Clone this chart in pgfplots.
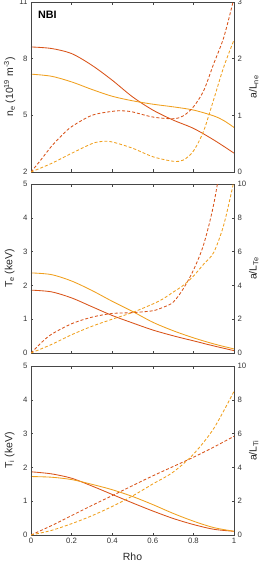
\documentclass[border=0pt]{standalone}
\usepackage{pgfplots}
\pgfplotsset{compat=1.18}
\usepackage{fontspec}
\setmainfont{Liberation Sans}
\definecolor{cred}{RGB}{217,83,25}
\definecolor{corange}{RGB}{240,160,30}
\definecolor{axgray}{RGB}{70,70,70}
\pgfplotsset{
  base/.style={
    scale only axis, width=203bp, xmin=0, xmax=1,
    xtick={0,0.2,0.4,0.6,0.8,1},
    tick align=inside, major tick length=2.5bp,
    axis line style={axgray, line width=0.5bp},
    every tick/.style={axgray, line width=0.5bp},
    tick label style={font=\fontsize{7.8}{8}\selectfont, text=black!80},
    /pgf/number format/assume math mode=true,
    label style={font=\fontsize{10.5}{11}\selectfont, text=black!85},
    ylabel style={anchor=center, rotate=0},
    every axis plot/.append style={line width=0.85bp, smooth, tension=0.5},
  },
  leftax/.style={base, ytick pos=left, xtick pos=both,
    ylabel style={at={(axis description cs:-0.105,0.5)}}},
  rightax/.style={base, ytick pos=right, yticklabel pos=right, xtick=\empty,
    ylabel style={at={(axis description cs:1.097,0.5)}}},
  dsh/.style={dash pattern=on 3bp off 2bp},
}
\begin{document}
\begin{tikzpicture}
\path[use as bounding box] (-31bp,2bp) rectangle (235bp,-561bp);
% ---------- top panel ----------
\begin{axis}[leftax, at={(0,0)}, anchor=north west, height=170bp,
  ymin=2, ymax=11, ytick={2,5,8,11}, xticklabels={},
  ylabel={n\textsubscript{e} (10\textsuperscript{19} m\textsuperscript{-3})}]
\node[anchor=west, inner sep=0pt, font=\bfseries\fontsize{10.8}{11}\selectfont] at (rel axis cs:0.034,0.922) {NBI};
\addplot[cred] coordinates {(0,8.62) (0.1,8.54) (0.2,8.27) (0.3,7.65) (0.4,6.86) (0.5,5.98) (0.6,5.28) (0.7,4.75) (0.8,4.31) (0.9,3.70) (1.0,3.0)};
\addplot[corange] coordinates {(0,7.18) (0.1,7.07) (0.2,6.77) (0.3,6.37) (0.4,6.01) (0.5,5.77) (0.6,5.59) (0.7,5.45) (0.8,5.28) (0.9,4.97) (0.95,4.72) (1.0,4.36)};
\end{axis}
\begin{axis}[rightax, at={(0,0)}, anchor=north west, height=170bp,
  ymin=0, ymax=3, ytick={0,1,2,3}, ylabel={a/L\textsubscript{ne}}]
\addplot[cred, dsh] coordinates {(0,0) (0.05,0.22) (0.1,0.45) (0.15,0.64) (0.2,0.80) (0.3,1.0) (0.4,1.07) (0.45,1.08) (0.5,1.06) (0.6,0.97) (0.7,0.94) (0.75,0.99) (0.8,1.15) (0.85,1.43) (0.9,1.91) (0.95,2.38) (1.0,3.07)};
\addplot[corange, dsh] coordinates {(0,0) (0.1,0.15) (0.2,0.33) (0.3,0.5) (0.35,0.54) (0.4,0.53) (0.5,0.42) (0.6,0.27) (0.7,0.19) (0.75,0.21) (0.8,0.37) (0.85,0.72) (0.9,1.28) (0.95,1.86) (1.0,2.33)};
\end{axis}
% ---------- middle panel ----------
\begin{axis}[leftax, at={(0,-182bp)}, anchor=north west, height=169bp,
  ymin=0, ymax=5, ytick={0,1,2,3,4,5}, xticklabels={},
  ylabel={T\textsubscript{e} (keV)}]
\addplot[corange] coordinates {(0,2.37) (0.1,2.32) (0.2,2.13) (0.3,1.85) (0.4,1.53) (0.5,1.23) (0.6,0.91) (0.7,0.66) (0.8,0.45) (0.9,0.27) (1.0,0.12)};
\addplot[cred] coordinates {(0,1.86) (0.1,1.81) (0.2,1.63) (0.3,1.37) (0.4,1.11) (0.5,0.89) (0.6,0.68) (0.7,0.51) (0.8,0.36) (0.9,0.21) (1.0,0.07)};
\end{axis}
\begin{axis}[rightax, at={(0,-182bp)}, anchor=north west, height=169bp,
  ymin=0, ymax=10, ytick={0,2,4,6,8,10}, ylabel={a/L\textsubscript{Te}}]
\addplot[cred, dsh] coordinates {(0,0) (0.05,0.6) (0.1,1.1) (0.2,1.73) (0.3,2.12) (0.4,2.34) (0.5,2.39) (0.6,2.5) (0.65,2.7) (0.7,3.0) (0.75,3.8) (0.8,4.9) (0.85,6.4) (0.9,8.8) (0.95,12.3) (1.0,16)};
\addplot[corange, dsh] coordinates {(0,0) (0.1,0.5) (0.2,1.08) (0.3,1.58) (0.4,2.0) (0.5,2.4) (0.6,2.9) (0.65,3.2) (0.7,3.6) (0.75,4.0) (0.8,4.55) (0.85,5.25) (0.9,5.95) (0.95,7.6) (1.0,10.2)};
\end{axis}
% ---------- bottom panel ----------
\begin{axis}[leftax, at={(0,-364bp)}, anchor=north west, height=169bp,
  ymin=0, ymax=5, ytick={0,1,2,3,4,5},
  xticklabels={0,0.2,0.4,0.6,0.8,1},
  xlabel={Rho}, xlabel style={at={(axis description cs:0.5,-0.127)}, anchor=center},
  ylabel={T\textsubscript{i} (keV)}]
\addplot[cred] coordinates {(0,1.87) (0.1,1.81) (0.2,1.68) (0.3,1.45) (0.4,1.2) (0.5,0.95) (0.6,0.71) (0.7,0.49) (0.8,0.31) (0.9,0.17) (1.0,0.11)};
\addplot[corange] coordinates {(0,1.73) (0.1,1.71) (0.2,1.64) (0.3,1.50) (0.4,1.34) (0.5,1.14) (0.6,0.90) (0.7,0.64) (0.8,0.41) (0.9,0.22) (1.0,0.11)};
\end{axis}
\begin{axis}[rightax, at={(0,-364bp)}, anchor=north west, height=169bp,
  ymin=0, ymax=10, ytick={0,2,4,6,8,10}, ylabel={a/L\textsubscript{Ti}}]
\addplot[cred, dsh] coordinates {(0,0) (0.1,0.55) (0.2,1.15) (0.3,1.75) (0.4,2.33) (0.5,2.92) (0.6,3.5) (0.7,4.05) (0.8,4.6) (0.9,5.2) (1.0,5.84)};
\addplot[corange, dsh] coordinates {(0,0) (0.1,0.27) (0.2,0.67) (0.3,1.14) (0.4,1.69) (0.5,2.31) (0.6,3.02) (0.7,3.72) (0.8,4.78) (0.9,6.3) (1.0,8.5)};
\end{axis}
\end{tikzpicture}
\end{document}
